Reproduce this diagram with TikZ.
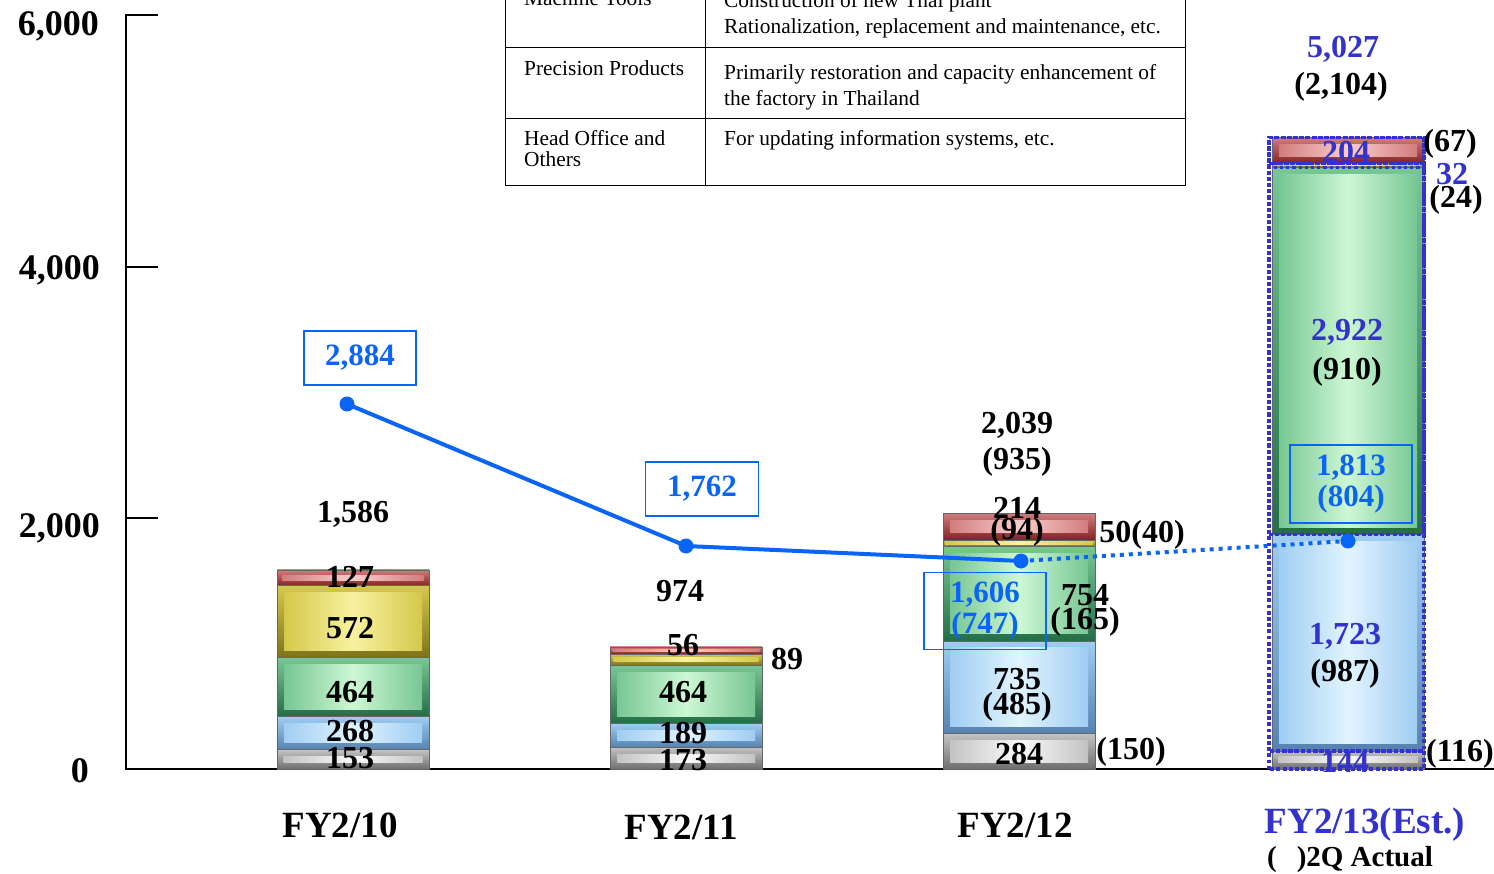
\documentclass[tikz,border=0pt]{standalone}
\usepackage{fontspec}
\setmainfont{Liberation Serif}

\definecolor{trendblue}{RGB}{10,100,245}
\definecolor{estblue}{RGB}{51,51,204}
\definecolor{greylight}{RGB}{250,250,250}
\definecolor{greymid}{RGB}{195,195,195}
\definecolor{greydark}{RGB}{110,110,110}
\definecolor{bluelight}{RGB}{225,244,255}
\definecolor{bluemid}{RGB}{160,205,242}
\definecolor{bluedark}{RGB}{85,130,175}
\definecolor{greenlight}{RGB}{205,248,212}
\definecolor{greenmid}{RGB}{120,198,148}
\definecolor{greendark}{RGB}{35,110,70}
\definecolor{yellowlight}{RGB}{248,242,160}
\definecolor{yellowmid}{RGB}{212,200,75}
\definecolor{yellowdark}{RGB}{125,115,25}
\definecolor{redlight}{RGB}{250,205,205}
\definecolor{redmid}{RGB}{210,125,125}
\definecolor{reddark}{RGB}{130,35,35}

% one stacked piece: x-left, lower value, upper value, colour
\newcommand{\stackseg}[4]{%
  \pgfmathsetmacro{\yb}{769-(#2)*0.12567}%
  \pgfmathsetmacro{\yt}{769-(#3)*0.12567}%
  \pgfmathsetmacro{\bev}{min(7,(\yb-\yt)/3)}%
  \shade[top color=#4mid, bottom color=#4dark] (#1,\yb) rectangle (#1+152,\yt);
  \shade[left color=#4mid, right color=#4mid, middle color=#4light] (#1+\bev,\yb-\bev) rectangle (#1+152-\bev,\yt+\bev);
  \draw[black!60, line width=0.8pt] (#1,\yb) rectangle (#1+152,\yt);
}
\newcommand{\estseg}[2]{%
  \pgfmathsetmacro{\yb}{769-(#1)*0.12567}%
  \pgfmathsetmacro{\yt}{769-(#2)*0.12567}%
  \draw[estbox] (1269,\yb) rectangle (1424,\yt);
}

\tikzset{
  lbl/.style={font=\fontsize{32}{32}\selectfont\bfseries, inner sep=0pt, yshift=-2pt},
  estlbl/.style={lbl, text=estblue},
  axlbl/.style={font=\fontsize{36}{36}\selectfont\bfseries, anchor=east, inner sep=0pt, yshift=-2pt},
  yearlbl/.style={font=\fontsize{37}{37}\selectfont\bfseries, inner sep=0pt, yshift=-2pt},
  tabtxt/.style={font=\fontsize{21.4}{26}\selectfont, anchor=base west, inner sep=0pt},
  valbox/.style={draw=trendblue, line width=1.5pt, text=trendblue, align=center,
    font=\fontsize{31}{31}\selectfont\bfseries, inner sep=0pt},
  dot/.style={circle, fill=trendblue, inner sep=0pt, minimum size=15pt},
  trend/.style={trendblue, line width=4pt},
  trenddots/.style={dash pattern=on 4pt off 5pt},
  estbox/.style={estblue, line width=3.2pt, dash pattern=on 3.2pt off 3pt}
}

\begin{document}
\begin{tikzpicture}[x=1pt,y=-1pt]
  \useasboundingbox (0,0) rectangle (1494,874);
  \clip (0,0) rectangle (1494,874);

  % table
  \draw[line width=1pt] (505,-10) -- (505,186) -- (1185,186) -- (1185,-10);
  \draw[line width=1pt] (705,-10) -- (705,186);
  \draw[line width=1pt] (505,48) -- (1185,48);
  \draw[line width=1pt] (505,119) -- (1185,119);
  \node[tabtxt] (t1) at (524,6) {Machine Tools};
  \node[tabtxt] (t2) at (724,8) {Construction of new Thai plant};
  \node[tabtxt] (t3) at (724,34) {Rationalization, replacement and maintenance, etc.};
  \node[tabtxt] (t4) at (524,76) {Precision Products};
  \node[tabtxt] (t5) at (724,80) {Primarily restoration and capacity enhancement of};
  \node[tabtxt] (t6) at (724,106) {the factory in Thailand};
  \node[tabtxt] (t7) at (524,146) {Head Office and};
  \node[tabtxt] (t8) at (524,167) {Others};
  \node[tabtxt] (t9) at (724,146) {For updating information systems, etc.};

  % axes
  \draw[line width=2pt] (158,15) -- (126,15) -- (126,769) -- (1494,769);
  \draw[line width=2pt] (126,267) -- (158,267);
  \draw[line width=2pt] (126,518) -- (158,518);
  \node[axlbl] (y6) at (99,24) {6,000};
  \node[axlbl] (y4) at (100,268) {4,000};
  \node[axlbl] (y2) at (100,526) {2,000};
  \node[axlbl] (y0) at (89,769) {0};

  % bars
  \stackseg{277}{0}{153}{grey}
  \stackseg{277}{153}{421}{blue}
  \stackseg{277}{421}{885}{green}
  \stackseg{277}{885}{1457}{yellow}
  \stackseg{277}{1457}{1584}{red}

  \stackseg{610}{0}{173}{grey}
  \stackseg{610}{173}{362}{blue}
  \stackseg{610}{362}{826}{green}
  \stackseg{610}{826}{915}{yellow}
  \stackseg{610}{915}{971}{red}

  \stackseg{943}{0}{284}{grey}
  \stackseg{943}{284}{1019}{blue}
  \stackseg{943}{1019}{1773}{green}
  \stackseg{943}{1773}{1823}{yellow}
  \stackseg{943}{1823}{2037}{red}

  \stackseg{1272}{0}{144}{grey}
  \stackseg{1272}{144}{1867}{blue}
  \stackseg{1272}{1867}{4789}{green}
  \stackseg{1272}{4789}{4821}{yellow}
  \stackseg{1272}{4821}{5025}{red}

  \estseg{0}{144}
  \estseg{144}{1867}
  \estseg{1867}{4789}
  \estseg{4789}{4821}
  \estseg{4821}{5025}
  \estseg{0}{5025}

  % FY2/10
  \node[lbl] (a1) at (350,756) {153};
  \node[lbl] (a2) at (350,729) {268};
  \node[lbl] (a3) at (350,690) {464};
  \node[lbl] (a4) at (350,626) {572};
  \node[lbl] (a5) at (350,575) {127};
  \node[lbl] (atot) at (353,512) {1,586};

  % FY2/11
  \node[lbl] (b1) at (683,758) {173};
  \node[lbl] (b2) at (683,731) {189};
  \node[lbl] (b3) at (683,690) {464};
  \node[lbl] (b4) at (787,657) {89};
  \node[lbl] (b5) at (683,643) {56};
  \node[lbl] (btot) at (680,589) {974};

  % FY2/12
  \node[lbl] (c1) at (1019,752) {284};
  \node[lbl] (c1a) at (1131,750) {(150)};
  \node[lbl] (c2) at (1017,677) {735};
  \node[lbl] (c2a) at (1017,705) {(485)};
  \node[lbl] (c3) at (1085,593) {754};
  \node[lbl] (c3a) at (1085,620) {(165)};
  \node[lbl] (c4) at (1142,533) {50(40)};
  \node[lbl] (c5) at (1017,506) {214};
  \node[lbl] (c5a) at (1017,530) {(94)};
  \node[lbl] (ctot) at (1017,423) {2,039};
  \node[lbl] (ctota) at (1017,460) {(935)};

  % FY2/13
  \node[estlbl] (d1) at (1345,760) {144};
  \node[lbl] (d1a) at (1460,752) {(116)};
  \node[estlbl] (d2) at (1345,634) {1,723};
  \node[lbl] (d2a) at (1345,672) {(987)};
  \node[estlbl] (d3) at (1347,330) {2,922};
  \node[lbl] (d3a) at (1347,370) {(910)};
  \node[estlbl] (d4) at (1452,172) {32};
  \node[lbl] (d4a) at (1456,198) {(24)};
  \node[estlbl] (d5) at (1346,150) {204};
  \node[lbl] (d5a) at (1450,142) {(67)};
  \node[estlbl] (dtot) at (1343,47) {5,027};
  \node[lbl] (dtota) at (1341,85) {(2,104)};

  % trend
  \node[dot] (p1) at (347,404) {};
  \node[dot] (p2) at (686,546) {};
  \node[dot] (p3) at (1021,561) {};
  \node[dot] (p4) at (1348,541) {};
  \draw[trend] (p1.center) -- (p2.center) -- (p3.center);
  \draw[trend, trenddots] (p3.center) -- (p4.center);
  \node[valbox, minimum width=112pt, minimum height=54pt] (v1) at (360,358) {2,884};
  \node[valbox, minimum width=113pt, minimum height=54pt] (v2) at (702,489) {1,762};
  \node[valbox, minimum width=122pt, minimum height=77pt] (v3) at (985,611) {1,606\\(747)};
  \node[valbox, minimum width=122pt, minimum height=78pt] (v4) at (1351,484) {1,813\\(804)};

  % years
  \node[yearlbl] (x1) at (340,823) {FY2/10};
  \node[yearlbl] (x2) at (681,825) {FY2/11};
  \node[yearlbl] (x3) at (1015,823) {FY2/12};
  \node[yearlbl, text=estblue] (x4) at (1365,823) {FY2/13(Est.)};
  \node[font=\fontsize{29}{29}\selectfont\bfseries, inner sep=0pt, yshift=-2pt] (x4a) at (1350,858) {(\hspace{20pt})2Q Actual};
\end{tikzpicture}
\end{document}
